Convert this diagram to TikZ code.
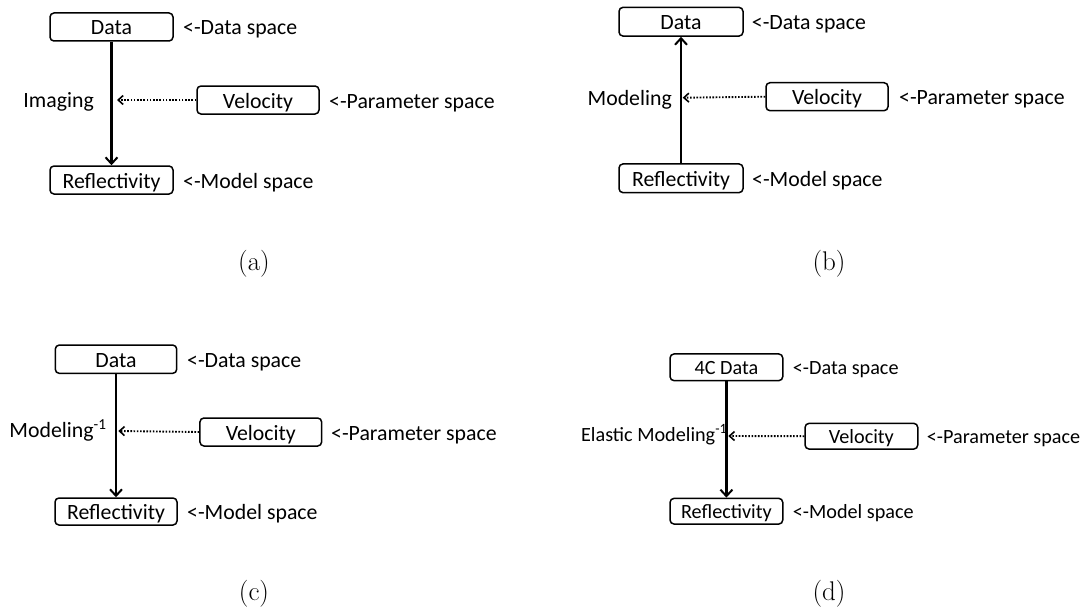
\documentclass[tikz,border=0pt]{standalone}
\usepackage{fontspec}
\newfontfamily\calfont{Carlito}
\usetikzlibrary{arrows.meta}
\tikzset{
  box/.style={draw, rounded corners=4pt, line width=1.5pt, inner sep=0pt, text height=16pt, text depth=0pt, font=\calfont\fontsize{21.8}{24}\selectfont},
  boxd/.style={box, text height=15pt, font=\calfont\fontsize{20.2}{22}\selectfont},
  lbl/.style={inner sep=0pt, anchor=base west, font=\calfont\fontsize{21.8}{24}\selectfont},
  lbld/.style={lbl, font=\calfont\fontsize{20.2}{22}\selectfont},
  alab/.style={inner sep=0pt, anchor=base east, font=\calfont\fontsize{21.8}{24}\selectfont},
  alabd/.style={alab, font=\calfont\fontsize{20.2}{22}\selectfont},
  mainarrow/.style={line width=2.4pt, -{Straight Barb[length=6.5pt,width=12pt,line width=2pt]}},
  dotarrow/.style={line width=1.9pt, dash pattern=on 1.6pt off 1.6pt, -{Straight Barb[length=5pt,width=9pt,line width=1.6pt]}},
  capt/.style={inner sep=0pt, anchor=base, font=\fontsize{27}{30}\selectfont},
}
\begin{document}
\begin{tikzpicture}[x=1pt,y=-1pt]
\useasboundingbox (0,0) rectangle (1091,610);
% ---------- (a)
\node[box, minimum width=123pt, minimum height=28pt] (da) at (111.5,27) {Data};
\node[box, minimum width=123pt, minimum height=28pt] (ra) at (111.5,180) {Reflectivity};
\node[box, minimum width=122pt, minimum height=28pt] (va) at (258,100) {Velocity};
\node[lbl] (dla) at (183,35) {<-Data space};
\node[lbl] (pla) at (329,108) {<-Parameter space};
\node[lbl] (mla) at (183,188) {<-Model space};
\node[alab] (ia) at (94,107) {Imaging};
\coordinate (ta) at (117,100);
\draw[mainarrow] (da.south) -- (ra.north);
\draw[dotarrow] (va.west) -- (ta);
\node[capt] (ca) at (254,270) {(a)};
% ---------- (b)
\node[box, minimum width=124pt, minimum height=28.7pt] (db) at (681,21.7) {Data};
\node[box, minimum width=124pt, minimum height=28.7pt] (rb) at (681,178.3) {Reflectivity};
\node[box, minimum width=122pt, minimum height=28pt] (vb) at (827,96.7) {Velocity};
\node[lbl] (dlb) at (751.7,29.7) {<-Data space};
\node[lbl] (plb) at (899,104.7) {<-Parameter space};
\node[lbl] (mlb) at (752,186.3) {<-Model space};
\node[alab] (ib) at (672,105) {Modeling};
\coordinate (tb) at (682.7,97.7);
\draw[mainarrow] (rb.north) -- (db.south);
\draw[dotarrow] (vb.west) -- (tb);
\node[capt] (cb) at (829,270) {(b)};
% ---------- (c)
\node[box, minimum width=121.4pt, minimum height=28.3pt] (dc) at (116,359.2) {Data};
\node[box, minimum width=122pt, minimum height=27pt] (rc) at (116,511.5) {Reflectivity};
\node[box, minimum width=121.7pt, minimum height=28pt] (vc) at (260.8,432) {Velocity};
\node[lbl] (dlc) at (187,367.2) {<-Data space};
\node[lbl] (plc) at (331,440) {<-Parameter space};
\node[lbl] (mlc) at (187,519.5) {<-Model space};
\node[alab] (ic) at (106.7,437) {Modeling\textsuperscript{-1}};
\coordinate (tc) at (118.3,431);
\draw[mainarrow] (dc.south) -- (rc.north);
\draw[dotarrow] (vc.west) -- (tc);
\node[capt] (cc) at (254,600) {(c)};
% ---------- (d)
\node[boxd, minimum width=112.7pt, minimum height=26.7pt] (dd) at (726.4,367.3) {4C Data};
\node[boxd, minimum width=112.7pt, minimum height=25.7pt] (rd) at (726.4,511.2) {Reflectivity};
\node[boxd, minimum width=112.7pt, minimum height=25.7pt] (vd) at (861.4,436.2) {Velocity};
\node[lbld] (dld) at (792.7,374.4) {<-Data space};
\node[lbld] (pld) at (926.7,443.4) {<-Parameter space};
\node[lbld] (mld) at (792.7,518.4) {<-Model space};
\node[alabd] (id) at (727.5,441.5) {Elastic Modeling\textsuperscript{-1}};
\coordinate (td) at (728.3,436);
\draw[mainarrow] (dd.south) -- (rd.north);
\draw[dotarrow] (vd.west) -- (td);
\node[capt] (cd) at (829,600) {(d)};
\end{tikzpicture}
\end{document}
